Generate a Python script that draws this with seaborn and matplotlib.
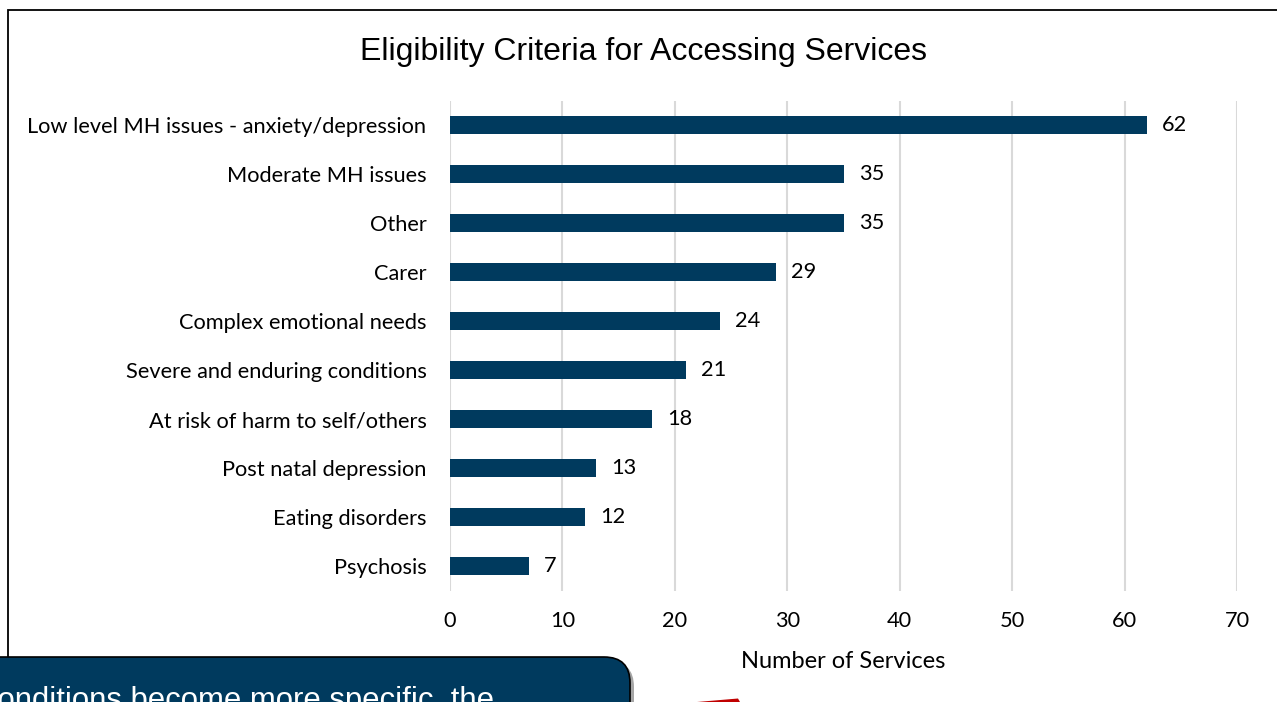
import matplotlib
matplotlib.use("Agg")
import matplotlib.pyplot as plt
import matplotlib.transforms as mtransforms
from matplotlib.patches import FancyBboxPatch, Rectangle, Polygon
import seaborn as sns
import pandas as pd

# Eligibility criteria and number of services accepting each
criteria = [
    "Low level MH issues - anxiety/depression",
    "Moderate MH issues",
    "Other",
    "Carer",
    "Complex emotional needs",
    "Severe and enduring conditions",
    "At risk of harm to self/others",
    "Post natal depression",
    "Eating disorders",
    "Psychosis",
]
services = [62, 35, 35, 29, 24, 21, 18, 13, 12, 7]
x_ticks = [0, 10, 20, 30, 40, 50, 60, 70]

title = "Eligibility Criteria for Accessing Services"
x_title = "Number of Services"
callout_text = "As conditions become more specific, the"

BAR = "#003A5E"
GRID = "#D9D9D9"

sns.set_style("white")
plt.rcParams["font.family"] = ["Lato", "DejaVu Sans"]
plt.rcParams["text.color"] = "black"
plt.rcParams["axes.labelcolor"] = "black"
plt.rcParams["xtick.color"] = "black"
plt.rcParams["ytick.color"] = "black"

W, H = 1277, 702
fig = plt.figure(figsize=(W / 100, H / 100), dpi=100)
ax = fig.add_axes([450 / W, 1 - 590.5 / H, 787 / W, 490 / H])

df = pd.DataFrame({"criteria": criteria, "services": services})
sns.barplot(data=df, x="services", y="criteria", orient="h", color=BAR,
            saturation=1, width=0.35, linewidth=0, ax=ax)

ax.set_xlim(0, 70)
ax.set_ylim(9.5, -0.5)
ax.set_xticks(x_ticks)
ax.grid(axis="x", color=GRID, lw=1.5)
ax.grid(axis="y", visible=False)
ax.set_axisbelow(True)
for s in ax.spines.values():
    s.set_visible(False)
ax.tick_params(length=0, labelsize=15.7)
ax.tick_params(axis="y", pad=17)
ax.tick_params(axis="x", pad=15)
ax.set_ylabel("")
ax.set_xlabel(x_title, fontsize=17, labelpad=14)

ax.bar_label(ax.containers[0], labels=[str(v) for v in services],
             padding=11, fontsize=15.7)

fig.text(644 / W, 1 - 52 / H, title, ha="center", va="center",
         fontsize=23, family=["Liberation Sans", "DejaVu Sans"])

# chart frame
fig.add_artist(Rectangle((8 / W, -0.1), 1.2, 1 - 10 / H + 0.1,
                         transform=fig.transFigure, fill=False,
                         edgecolor="black", lw=1.3))

# callout box in pixel coordinates
px = mtransforms.IdentityTransform()
shadow = FancyBboxPatch((-40 + 4, -40 - 4), 670, H - 657 + 40,
                        boxstyle="round,pad=0,rounding_size=26",
                        transform=px, facecolor="black", alpha=0.35,
                        edgecolor="none")
fig.add_artist(shadow)
box = FancyBboxPatch((-40, -40), 670, H - 657 + 40,
                     boxstyle="round,pad=0,rounding_size=26",
                     transform=px, facecolor="#003A5E",
                     edgecolor="black", lw=1.2)
fig.add_artist(box)
fig.text(494, H - 709, callout_text, transform=px, ha="right",
         va="baseline", color="white", fontsize=22.4,
         family=["Liberation Sans", "DejaVu Sans"])

# arrow tip peeking in from below
fig.add_artist(Polygon([(697, 0), (738, 3.5), (740, 0)], closed=True,
                       transform=px, facecolor="#C00000", edgecolor="none"))

fig.savefig("out.png", dpi=100)
